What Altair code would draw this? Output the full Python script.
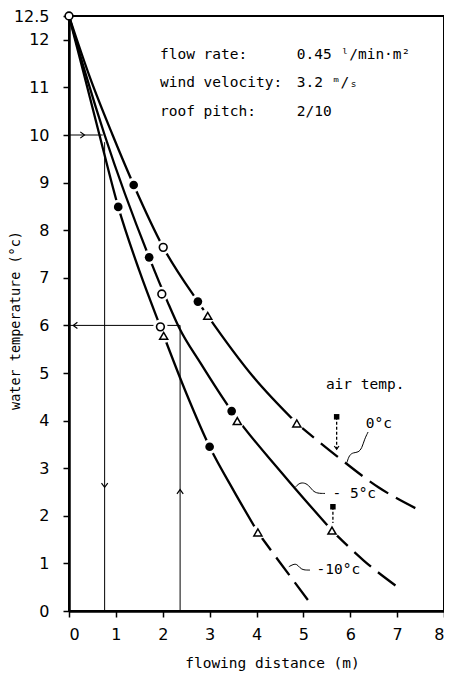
import altair as alt
import pandas as pd

# ---- curve data ----
a_solid_x = [0, 0.45, 0.93, 1.38, 2.01, 2.75, 2.96, 3.93, 4.86]
a_solid_y = [12.5, 11.2, 10.0, 8.95, 7.64, 6.5, 6.2, 4.92, 3.94]
a_dash_x = [4.86, 5.72, 6.6, 7.53]
a_dash_y = [3.94, 3.25, 2.6, 2.09]

b_solid_x = [0, 0.35, 0.76, 1.71, 2.1, 2.35, 2.81, 3.47, 4.55, 5.61]
b_solid_y = [12.5, 11.3, 10.0, 7.43, 6.5, 5.95, 5.2, 4.2, 2.89, 1.69]
b_dash_x = [5.61, 6.3, 7.07]
b_dash_y = [1.69, 1.05, 0.46]

c_solid_x = [0, 0.3, 0.65, 1.05, 1.5, 1.95, 2.5, 3.0, 3.5, 4.03]
c_solid_y = [12.5, 11.35, 10.0, 8.49, 7.15, 5.97, 4.58, 3.45, 2.55, 1.65]
c_dash_x = [4.03, 4.5, 5.12]
c_dash_y = [1.65, 1.02, 0.2]

# ---- measured points ----
open_circle_x = [0, 2.01, 1.98, 1.95]
open_circle_y = [12.5, 7.64, 6.66, 5.97]
dot_x = [1.38, 2.75, 1.05, 1.71, 3.47, 3.0]
dot_y = [8.95, 6.5, 8.49, 7.43, 4.2, 3.45]
tri_x = [2.96, 4.86, 2.02, 3.59, 5.61, 4.03]
tri_y = [6.2, 3.94, 5.78, 3.99, 1.69, 1.65]

# ---- reading guide lines ----
guide_x = [0, 0.76, 2.37, 0]
guide_x2 = [0.72, 0.76, 2.37, 2.37]
guide_y = [10, 0, 0, 6]
guide_y2 = [10, 9.85, 6, 6]
arrow_x = [0.33, 0.76, 2.37, 0.09]
arrow_y = [10, 2.6, 2.55, 6]
arrow_ang = [0, 90, 270, 180]

# ---- freezing point pointers ----
ptr_x = [5.71, 5.63]
ptr_y = [4.08, 2.19]
ptr_y2 = [3.4, 1.85]

# ---- leader squiggles ----
lead0_x = [5.93, 5.98, 6.07, 6.17, 6.25, 6.3, 6.38]
lead0_y = [3.12, 3.28, 3.33, 3.33, 3.42, 3.6, 3.76]
lead5_x = [4.83, 4.9, 5.0, 5.11, 5.2, 5.3, 5.46]
lead5_y = [2.6, 2.68, 2.7, 2.65, 2.52, 2.47, 2.47]
lead10_x = [4.69, 4.78, 4.86, 4.93, 5.0, 5.14]
lead10_y = [0.93, 0.98, 0.99, 0.9, 0.86, 0.86]

# ---- texts ----
note_text = ["flow rate:", "wind velocity:", "roof pitch:",
             "0.45 ˡ/min·m²", "3.2  ᵐ/ₛ", "2/10",
             "air temp.", "0°c", "- 5°c", "-10°c"]
note_x = [1.94, 1.94, 1.94, 4.86, 4.86, 4.86, 5.48, 6.33, 5.62, 5.28]
note_y = [11.68, 11.09, 10.48, 11.68, 11.09, 10.48, 4.75, 3.93, 2.45, 0.86]

x_ticks = [0, 1, 2, 3, 4, 5, 6, 7, 8]
y_ticks = [0, 1, 2, 3, 4, 5, 6, 7, 8, 9, 10, 11, 12, 12.5]

FONT = "DejaVu Sans"
TFONT = "DejaVu Sans Mono"


def series(name, xs, ys):
    return pd.DataFrame({"x": xs, "y": ys, "s": name})


solid = pd.concat([series("A", a_solid_x, a_solid_y),
                   series("B", b_solid_x, b_solid_y),
                   series("C", c_solid_x, c_solid_y)])
dashed = pd.concat([series("A", a_dash_x, a_dash_y),
                    series("B", b_dash_x, b_dash_y),
                    series("C", c_dash_x, c_dash_y)])
leaders = pd.concat([series("0", lead0_x, lead0_y),
                     series("5", lead5_x, lead5_y),
                     series("10", lead10_x, lead10_y)])
opens = pd.DataFrame({"x": open_circle_x, "y": open_circle_y})
dots = pd.DataFrame({"x": dot_x, "y": dot_y})
tris = pd.DataFrame({"x": tri_x, "y": tri_y})
gaps = pd.concat([opens.iloc[1:], dots, tris])
guides = pd.DataFrame({"x": guide_x, "x2": guide_x2, "y": guide_y, "y2": guide_y2})
arrows = pd.DataFrame({"x": arrow_x, "y": arrow_y, "ang": arrow_ang})
ptrs = pd.DataFrame({"x": ptr_x, "y": ptr_y, "y2": ptr_y2})
ptr_heads = pd.DataFrame({"x": ptr_x[:1], "y": ptr_y2[:1], "ang": [90]})
notes = pd.DataFrame({"x": note_x, "y": note_y, "t": note_text})

X = alt.X("x:Q", scale=alt.Scale(domain=[0, 8], nice=False, zero=False),
          axis=alt.Axis(values=x_ticks, title="flowing distance (m)",
                        grid=False, tickSize=6, tickWidth=1.5,
                        labelFontSize=16, labelPadding=9, labelFont=FONT,
                        labelColor="black", domainWidth=2.5, domainColor="black",
                        tickColor="black", titleFont=TFONT, titleFontSize=14.5,
                        titleFontWeight="normal", titleColor="black",
                        titleX=203, titleY=56, titleBaseline="alphabetic"))
Y = alt.Y("y:Q", scale=alt.Scale(domain=[0, 12.5], nice=False, zero=False),
          axis=alt.Axis(values=y_ticks, labelExpr="'' + datum.value",
                        title="water temperature (°c)", grid=False,
                        tickSize=6, tickWidth=1.5, labelFontSize=16,
                        labelPadding=14, labelFont=FONT, labelColor="black",
                        domainWidth=2.5, domainColor="black", tickColor="black",
                        titleFont=TFONT, titleFontSize=13.5,
                        titleFontWeight="normal", titleColor="black",
                        titleAngle=270, titleX=-54, titleY=304,
                        titleAlign="center", titleBaseline="middle"))

chevron = "M-1,-0.75L0,0L-1,0.75"

guide_layer = alt.Chart(guides).mark_rule(color="black", strokeWidth=1).encode(
    x=X, x2="x2:Q", y=Y, y2="y2:Q")
solid_layer = alt.Chart(solid).mark_line(
    color="black", strokeWidth=2.3, interpolate="monotone").encode(
    x=X, y=Y, detail="s:N")
dash_layer = alt.Chart(dashed).mark_line(
    color="black", strokeWidth=2.3, interpolate="monotone",
    strokeDash=[22, 9]).encode(x=X, y=Y, detail="s:N")
lead_layer = alt.Chart(leaders).mark_line(
    color="black", strokeWidth=1, interpolate="basis").encode(
    x=X, y=Y, detail="s:N")
ptr_layer = alt.Chart(ptrs).mark_rule(
    color="black", strokeWidth=1.3, strokeDash=[3, 2]).encode(
    x=X, y=Y, y2="y2:Q")
ptr_sq = alt.Chart(ptrs).mark_point(
    shape="square", filled=True, color="black", size=30, opacity=1).encode(x=X, y=Y)
ptr_head = alt.Chart(ptr_heads).mark_point(
    shape=chevron, filled=False, color="black", strokeWidth=1.2, size=40,
    opacity=1).encode(x=X, y=Y, angle=alt.Angle("ang:Q", scale=None))
gap_layer = alt.Chart(gaps).mark_point(
    shape="circle", filled=True, color="white", size=210, opacity=1).encode(x=X, y=Y)
open_layer = alt.Chart(opens).mark_point(
    shape="circle", filled=True, fill="white", stroke="black", strokeWidth=1.6,
    size=60, opacity=1).encode(x=X, y=Y)
dot_layer = alt.Chart(dots).mark_point(
    shape="circle", filled=True, color="black", size=75, opacity=1).encode(x=X, y=Y)
tri_layer = alt.Chart(tris).mark_point(
    shape="triangle-up", filled=True, fill="white", stroke="black",
    strokeWidth=1.5, size=65, opacity=1).encode(x=X, y=Y)
arrow_layer = alt.Chart(arrows).mark_point(
    shape=chevron, filled=False, color="black", strokeWidth=1.2, size=70,
    opacity=1).encode(x=X, y=Y, angle=alt.Angle("ang:Q", scale=None))
text_layer = alt.Chart(notes).mark_text(
    align="left", baseline="middle", font=TFONT, fontSize=14.5,
    color="black").encode(x=X, y=Y, text="t:N")

chart = alt.layer(
    guide_layer, solid_layer, dash_layer, lead_layer, ptr_layer,
    gap_layer, open_layer, dot_layer, tri_layer, ptr_sq, ptr_head,
    arrow_layer, text_layer
).properties(
    width=375, height=595,
    autosize=alt.AutoSizeParams(type="none"),
    padding={"left": 61, "top": 8, "right": 0, "bottom": 61},
    background="white",
).configure_view(stroke="black", strokeWidth=2)

chart.save("out.html", embed_options={"renderer": "svg", "actions": False})
